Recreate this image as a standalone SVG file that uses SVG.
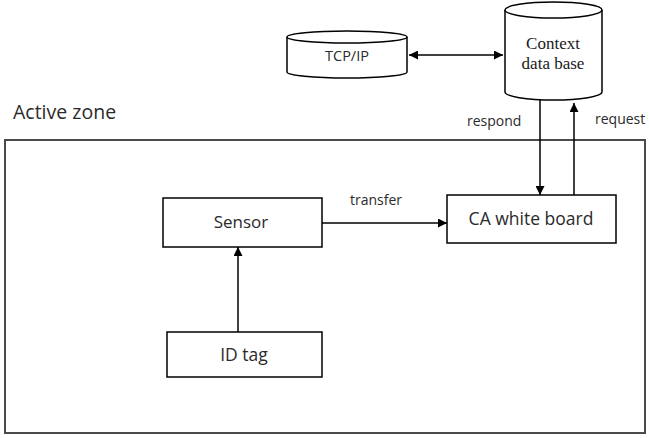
<svg xmlns="http://www.w3.org/2000/svg" width="649" height="438" viewBox="0 0 649 438">
  <style>
    .box { fill: #fff; stroke: #000; stroke-width: 1.5; }
    .zone { fill: none; stroke: #4a4a4a; stroke-width: 2; }
    .wire { fill: none; stroke: #000; stroke-width: 1.5; }
    .lbl { font-family: "Open Sans", "Liberation Sans", sans-serif; fill: #2a2a2a; }
    .serif { font-family: "Liberation Serif", serif; fill: #1a1a1a; }
  </style>
  <defs>
    <marker id="ah" viewBox="0 0 10 10" refX="10" refY="5" markerWidth="9" markerHeight="9" markerUnits="userSpaceOnUse" orient="auto-start-reverse">
      <path d="M0,0 L10,5 L0,10 z" fill="#000"/>
    </marker>
  </defs>

  <rect width="649" height="438" fill="#fff"/>

  <g id="active-zone">
    <rect class="zone" x="5" y="140" width="640" height="293"/>
    <text class="lbl" x="13" y="119" font-size="19.5">Active zone</text>
  </g>

  <g id="tcpip">
    <path class="box" d="M287,37 V72 A60,6 0 0 0 407,72 V37"/>
    <ellipse class="box" cx="347" cy="37" rx="60" ry="6"/>
    <text class="lbl" x="347" y="61" font-size="14.5" text-anchor="middle">TCP/IP</text>
  </g>

  <g id="context-db">
    <path class="box" d="M505,10 V92 A48.5,8 0 0 0 602,92 V10"/>
    <ellipse class="box" cx="553.5" cy="10" rx="48.5" ry="8"/>
    <text class="serif" x="553" y="49" font-size="17" text-anchor="middle">Context</text>
    <text class="serif" x="553" y="69" font-size="17" text-anchor="middle">data base</text>
  </g>

  <g id="sensor">
    <rect class="box" x="163" y="198" width="159" height="49"/>
    <text class="lbl" x="241" y="228" font-size="17" text-anchor="middle">Sensor</text>
  </g>

  <g id="ca-white-board">
    <rect class="box" x="447" y="195" width="169" height="48"/>
    <text class="lbl" x="531" y="225" font-size="17.5" text-anchor="middle">CA white board</text>
  </g>

  <g id="id-tag">
    <rect class="box" x="167" y="332" width="155" height="45"/>
    <text class="lbl" x="244" y="361" font-size="17.5" text-anchor="middle">ID tag</text>
  </g>

  <g id="connectors">
    <line class="wire" x1="409" y1="55" x2="503" y2="55" marker-start="url(#ah)" marker-end="url(#ah)"/>
    <line class="wire" x1="540" y1="100" x2="540" y2="195" marker-end="url(#ah)"/>
    <line class="wire" x1="574" y1="195" x2="574" y2="103" marker-end="url(#ah)"/>
    <line class="wire" x1="322" y1="223" x2="447" y2="223" marker-end="url(#ah)"/>
    <line class="wire" x1="238" y1="332" x2="238" y2="247" marker-end="url(#ah)"/>
    <text class="lbl" x="467" y="126" font-size="14">respond</text>
    <text class="lbl" x="595" y="124" font-size="14">request</text>
    <text class="lbl" x="376" y="205" font-size="14" text-anchor="middle">transfer</text>
  </g>
</svg>
